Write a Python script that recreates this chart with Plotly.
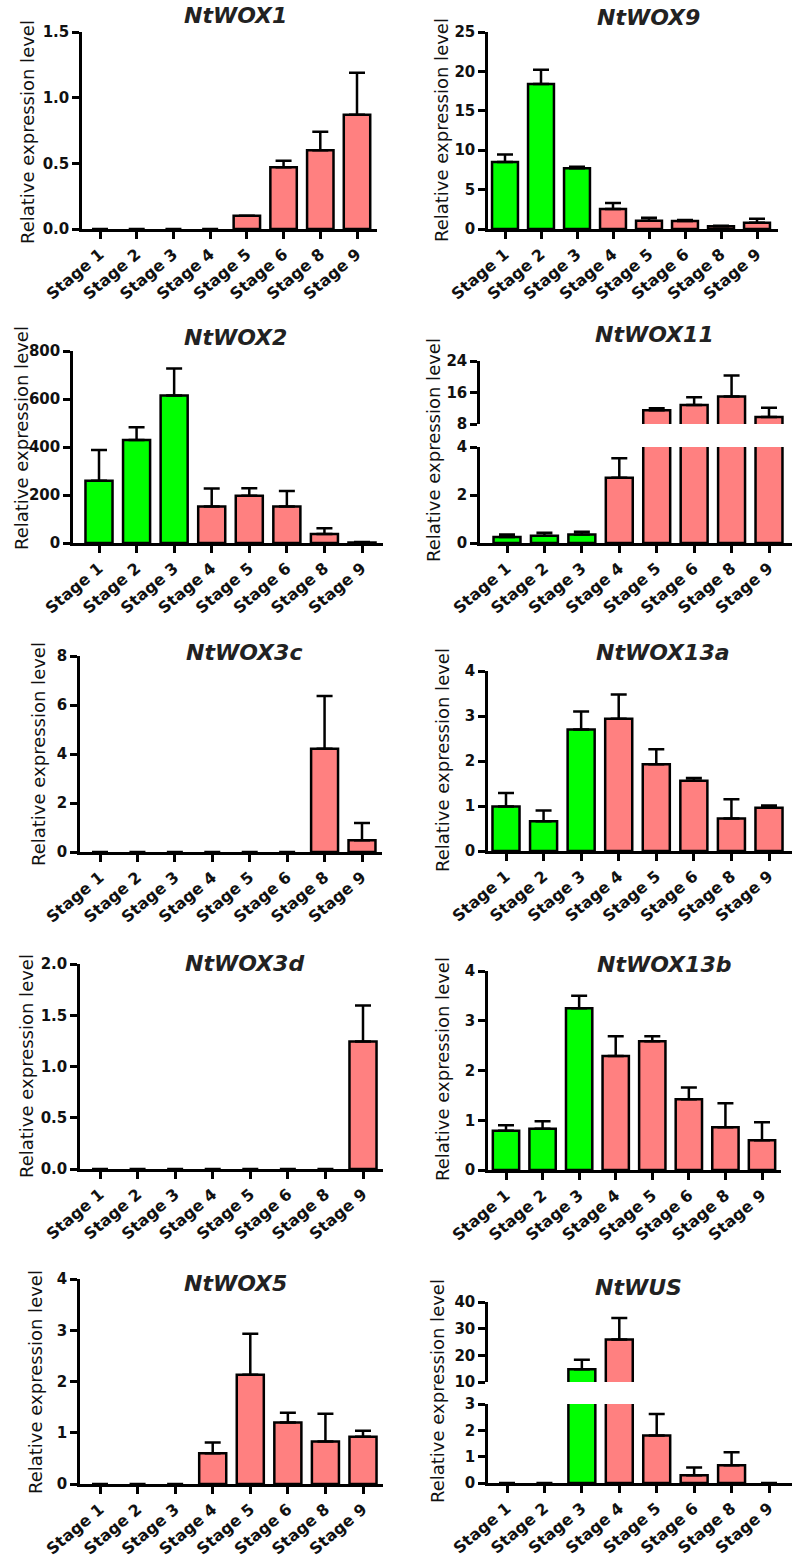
import plotly.graph_objects as go

# ---------------- data ----------------
stages = ["Stage 1", "Stage 2", "Stage 3", "Stage 4", "Stage 5", "Stage 6", "Stage 8", "Stage 9"]
stage_group = ["green", "green", "green", "pink", "pink", "pink", "pink", "pink"]

wox1_mean = [0, 0, 0, 0, 0.10, 0.47, 0.60, 0.87]
wox1_err = [0, 0, 0, 0, 0, 0.05, 0.14, 0.32]

wox9_mean = [8.5, 18.4, 7.7, 2.55, 1.06, 1.02, 0.34, 0.8]
wox9_err = [0.95, 1.8, 0.2, 0.75, 0.38, 0.13, 0.08, 0.5]

wox2_mean = [259, 429, 615, 152, 197, 152, 37, 2]
wox2_err = [129, 53, 112, 75, 31, 65, 24, 2]

wox11_mean = [0.25, 0.30, 0.35, 2.72, 11.5, 12.8, 15.0, 9.8]
wox11_err = [0.10, 0.13, 0.12, 0.81, 0.5, 2.0, 5.3, 2.3]

wox3c_mean = [0, 0, 0, 0, 0, 0, 4.21, 0.48]
wox3c_err = [0, 0, 0, 0, 0, 0, 2.16, 0.70]

wox13a_mean = [0.99, 0.66, 2.70, 2.94, 1.93, 1.56, 0.72, 0.96]
wox13a_err = [0.30, 0.24, 0.40, 0.54, 0.33, 0.06, 0.43, 0.05]

wox3d_mean = [0, 0, 0, 0, 0, 0, 0, 1.244]
wox3d_err = [0, 0, 0, 0, 0, 0, 0, 0.35]

wox13b_mean = [0.79, 0.83, 3.25, 2.29, 2.59, 1.42, 0.86, 0.60]
wox13b_err = [0.11, 0.15, 0.25, 0.40, 0.10, 0.24, 0.48, 0.36]

wox5_mean = [0, 0, 0, 0.60, 2.13, 1.20, 0.83, 0.92]
wox5_err = [0, 0, 0, 0.21, 0.80, 0.19, 0.54, 0.12]

wus_mean = [0, 0, 14.8, 25.9, 1.80, 0.29, 0.67, 0]
wus_err = [0, 0, 3.5, 8.1, 0.82, 0.30, 0.50, 0]

ytitle = "Relative expression level"

# ---------------- styling / layout config ----------------
W, H = 792, 1557
COLORS = {"green": "#00FF00", "pink": "#FF8080"}
LW = 2.5
FONT = "DejaVu Sans"


def fx(px):
    return px / W


def fy(py):
    return 1 - py / H


# geo: (y-axis x px, stage1 tick px, stage9 tick px, x-axis end px)
# segs: (range, tickvals, (top px, bottom px)) from top to bottom
panels = [
    dict(title="NtWOX1", mean=wox1_mean, err=wox1_err, geo=(82, 100, 357, 377),
         segs=[([0, 1.5], [0, 0.5, 1.0, 1.5], (32, 229))], tpos=(235, 16), ypos=(27, 132), fmt=".1f"),
    dict(title="NtWOX9", mean=wox9_mean, err=wox9_err, geo=(488, 505, 757, 778),
         segs=[([0, 25], [0, 5, 10, 15, 20, 25], (32, 229))], tpos=(648, 17), ypos=(442, 130), fmt=""),
    dict(title="NtWOX2", mean=wox2_mean, err=wox2_err, geo=(73, 99, 362, 383),
         segs=[([0, 800], [0, 200, 400, 600, 800], (351, 543))], tpos=(236, 337), ypos=(21, 438), fmt=""),
    dict(title="NtWOX11", mean=wox11_mean, err=wox11_err, geo=(480, 507, 769, 792),
         segs=[([8, 24], [8, 16, 24], (361, 424)), ([0, 4], [0, 2, 4], (447, 543))],
         tpos=(654, 334), ypos=(434, 450), fmt=""),
    dict(title="NtWOX3c", mean=wox3c_mean, err=wox3c_err, geo=(80, 100, 362, 382),
         segs=[([0, 8], [0, 2, 4, 6, 8], (656, 852))], tpos=(244, 652), ypos=(38, 754), fmt=""),
    dict(title="NtWOX13a", mean=wox13a_mean, err=wox13a_err, geo=(488, 506, 769, 792),
         segs=[([0, 4], [0, 1, 2, 3, 4], (671, 851))], tpos=(663, 652), ypos=(442, 760), fmt=""),
    dict(title="NtWOX3d", mean=wox3d_mean, err=wox3d_err, geo=(80, 100, 363, 383),
         segs=[([0, 2], [0, 0.5, 1.0, 1.5, 2.0], (964, 1169))], tpos=(244, 963), ypos=(26, 1066), fmt=".1f"),
    dict(title="NtWOX13b", mean=wox13b_mean, err=wox13b_err, geo=(488, 506, 762, 781),
         segs=[([0, 4], [0, 1, 2, 3, 4], (971, 1170))], tpos=(664, 964), ypos=(442, 1069), fmt=""),
    dict(title="NtWOX5", mean=wox5_mean, err=wox5_err, geo=(80, 100, 363, 383),
         segs=[([0, 4], [0, 1, 2, 3, 4], (1279, 1484))], tpos=(235, 1283), ypos=(35, 1382), fmt=""),
    dict(title="NtWUS", mean=wus_mean, err=wus_err, geo=(488, 507, 769, 792),
         segs=[([10, 40], [10, 20, 30, 40], (1302, 1382)), ([0, 3], [0, 1, 2, 3], (1404, 1483))],
         tpos=(638, 1287), ypos=(437, 1391), fmt=""),
]

fig = go.Figure()
layout = {}
annotations = []
xs = list(range(len(stages)))
bar_colors = [COLORS[g] for g in stage_group]
ytickfont = dict(family=FONT, size=15, color="#111111", weight="bold")
xtickfont = dict(family=FONT, size=16, color="#111111", weight="bold")

yidx = 0
for pi, p in enumerate(panels):
    xi = pi + 1
    xname = "x" if xi == 1 else f"x{xi}"
    xkey = "xaxis" if xi == 1 else f"xaxis{xi}"
    yx, x0, x7, xend = p["geo"]
    sp = (x7 - x0) / 7.0
    xr = [-(x0 - yx) / sp, 7 + (xend - x7) / sp]
    line_w = [LW if m > 0 else 0 for m in p["mean"]]

    nseg = len(p["segs"])
    seg_ynames = []
    for si, (rng, tv, (top, bot)) in enumerate(p["segs"]):
        yidx += 1
        yname = "y" if yidx == 1 else f"y{yidx}"
        ykey = "yaxis" if yidx == 1 else f"yaxis{yidx}"
        seg_ynames.append(yname)
        layout[ykey] = dict(
            domain=[fy(bot), fy(top)], range=rng, tickvals=tv,
            tickformat=p["fmt"] if p["fmt"] else None,
            ticks="outside", ticklen=7, tickwidth=LW, tickcolor="black",
            showline=True, linewidth=LW, linecolor="black",
            showgrid=False, zeroline=False, anchor=xname, automargin=False,
            tickfont=ytickfont, fixedrange=True,
        )
        lo, hi = rng
        errs = []
        for m, e in zip(p["mean"], p["err"]):
            if m <= 0:
                errs.append(None)
            elif nseg > 1 and si == nseg - 1 and m > hi:
                errs.append(None)
            elif nseg > 1 and si < nseg - 1 and m < lo:
                errs.append(None)
            else:
                errs.append(e)
        fig.add_trace(go.Bar(
            x=xs, y=p["mean"], width=0.72,
            marker=dict(color=bar_colors, line=dict(color="black", width=line_w)),
            error_y=dict(type="data", symmetric=False, array=errs,
                         arrayminus=[0] * len(errs), color="black",
                         thickness=LW, width=8),
            xaxis=xname, yaxis=yname, showlegend=False, hoverinfo="skip",
        ))

    layout[xkey] = dict(
        domain=[fx(yx), fx(xend)], range=xr, tickvals=xs, ticktext=stages,
        tickangle=-40, ticks="outside", ticklen=7, tickwidth=LW, tickcolor="black",
        showline=True, linewidth=LW, linecolor="black",
        showgrid=False, zeroline=False, anchor=seg_ynames[-1], automargin=False,
        tickfont=xtickfont, fixedrange=True,
    )

    tx, ty = p["tpos"]
    annotations.append(dict(
        text=f"<b><i>{p['title']}</i></b>", x=fx(tx), y=fy(ty), xref="paper", yref="paper",
        xanchor="center", yanchor="middle", showarrow=False,
        font=dict(family=FONT, size=22, color="#222222"),
    ))
    ax, ay = p["ypos"]
    annotations.append(dict(
        text=ytitle, x=fx(ax), y=fy(ay), xref="paper", yref="paper",
        xanchor="center", yanchor="middle", showarrow=False, textangle=-90,
        font=dict(family=FONT, size=18, color="#111111"),
    ))

fig.update_layout(
    width=W, height=H,
    margin=dict(l=0, r=0, t=0, b=0, autoexpand=False),
    paper_bgcolor="white", plot_bgcolor="white",
    barmode="overlay",
    annotations=annotations,
    **layout,
)

fig.write_html(
    "out.html",
    config={"displayModeBar": False},
    post_script="document.body.style.margin='0';document.body.style.overflow='hidden';",
)
